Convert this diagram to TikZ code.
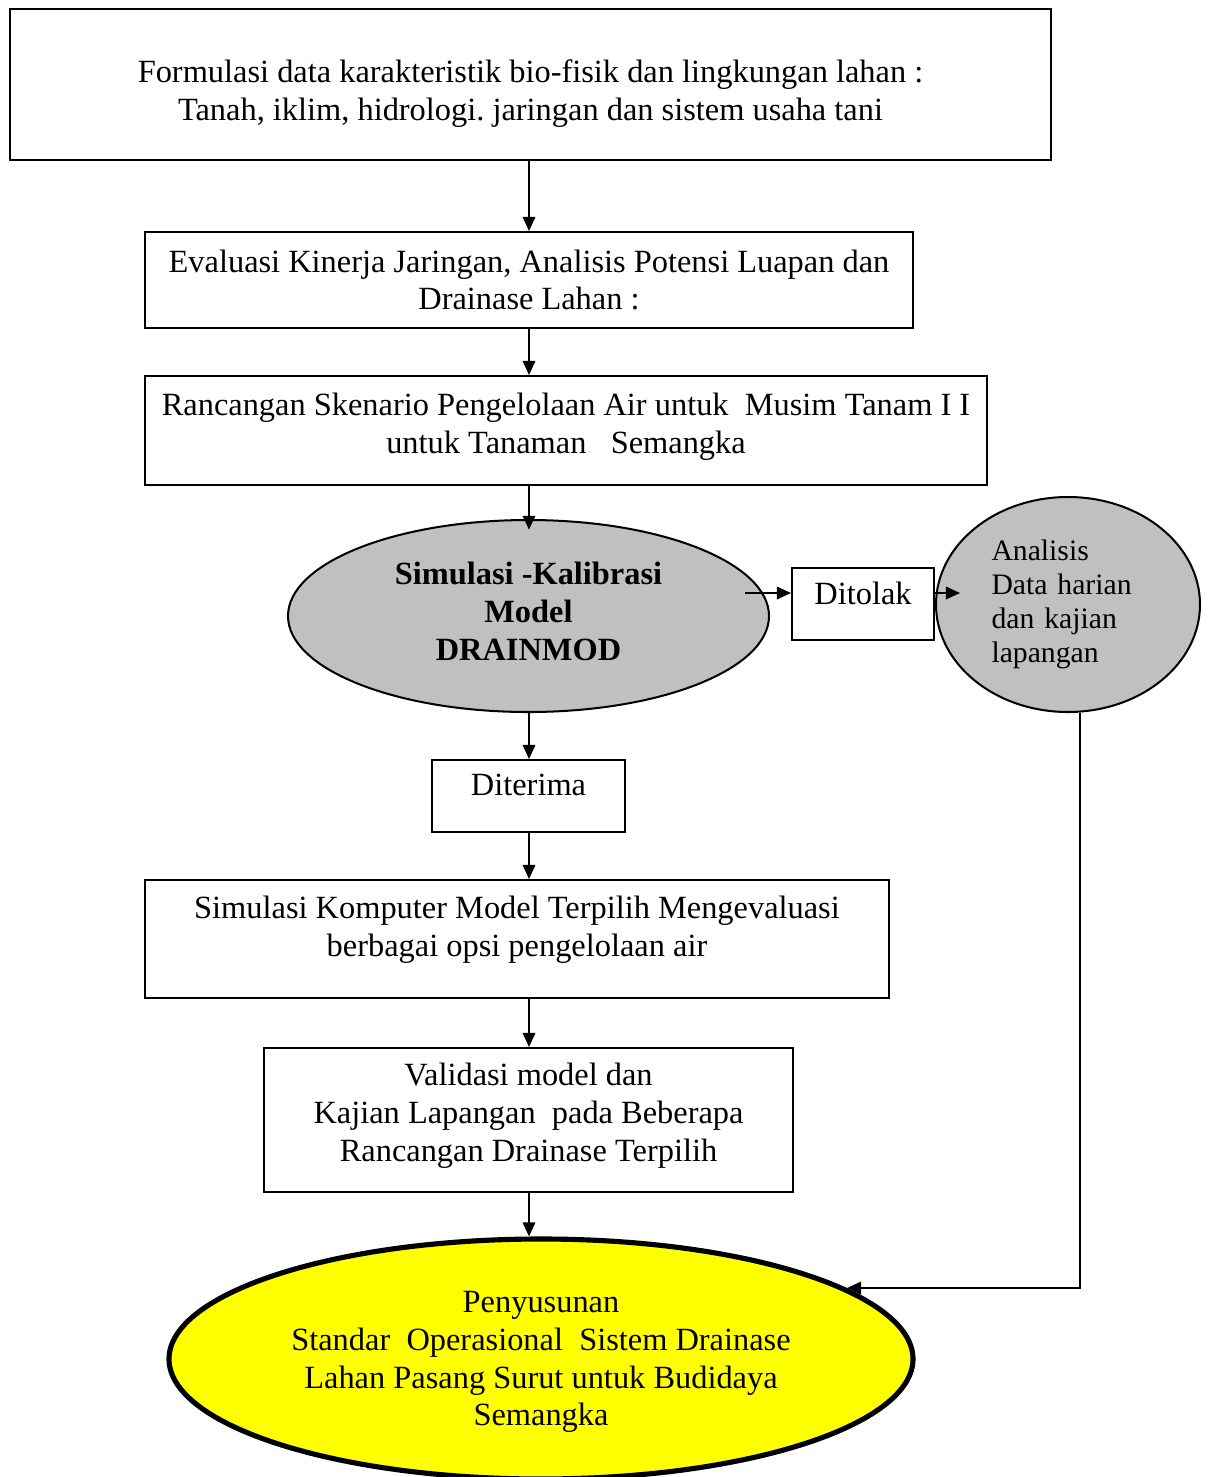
\documentclass[tikz,border=0pt]{standalone}
\usepackage{fontspec}
\setmainfont{Liberation Serif}
\usetikzlibrary{shapes.geometric,arrows.meta}
\frenchspacing
\newcommand{\px}{0.3704pt}
\definecolor{abu}{RGB}{192,192,192}
\definecolor{kuning}{RGB}{255,255,0}
\tikzset{
  kotak/.style={draw, line width=0.75pt, align=center, inner sep=0pt,
    font=\fontsize{12pt}{14pt}\selectfont},
  elips/.style={draw, ellipse, line width=0.75pt, align=center, inner sep=0pt,
    font=\fontsize{12pt}{14pt}\selectfont},
  arr/.style={line width=0.75pt, -{Triangle[length=5.2pt,width=4.6pt]}}
}
\begin{document}
\begin{tikzpicture}[x=\px, y=-\px]
\useasboundingbox (0,0) rectangle (1208,1477);

\node[kotak, minimum width=1041*\px, minimum height=151*\px, text depth=0pt, text height=72*\px] (formulasi) at (530.5,84.5)
  {Formulasi data karakteristik bio-fisik dan lingkungan lahan :\\
   Tanah, iklim, hidrologi. jaringan dan sistem usaha tani};
\node[kotak, minimum width=768*\px, minimum height=96*\px] (evaluasi) at (529,280)
  {Evaluasi Kinerja Jaringan, Analisis Potensi Luapan dan\\ Drainase Lahan :};
\node[kotak, minimum width=842*\px, minimum height=109*\px, text depth=14*\px] (rancangan) at (566,430.5)
  {Rancangan Skenario Pengelolaan Air untuk\ \ Musim Tanam I I\\ untuk Tanaman\ \ \ Semangka};
\node[elips, fill=abu, minimum width=481*\px, minimum height=192*\px, text depth=10*\px,
  font=\fontsize{12pt}{14pt}\selectfont\bfseries] (kalibrasi) at (528.5,616)
  {Simulasi -Kalibrasi\\ Model\\ DRAINMOD};
\node[kotak, minimum width=142*\px, minimum height=72*\px, text depth=22*\px] (ditolak) at (863,604) {Ditolak};
\node[elips, fill=abu, minimum width=264*\px, minimum height=215*\px, align=left, text width=153*\px,
  font=\fontsize{11pt}{12.6pt}\selectfont] (analisis) at (1068,604.5)
  {Analisis\\ Data harian\\ dan kajian\\ lapangan};
\node[kotak, minimum width=193*\px, minimum height=72*\px, text depth=22*\px] (diterima) at (528.5,796) {Diterima};
\node[kotak, minimum width=744*\px, minimum height=118*\px, text depth=26*\px] (komputer) at (517,939)
  {Simulasi Komputer Model Terpilih Mengevaluasi\\ berbagai opsi pengelolaan air};
\node[kotak, minimum width=529*\px, minimum height=144*\px, text depth=16*\px] (validasi) at (528.5,1120)
  {Validasi model dan\\ Kajian Lapangan\ \ pada Beberapa\\ Rancangan Drainase Terpilih};
\node[elips, fill=kuning, line width=1.9pt, minimum width=744*\px, minimum height=240*\px, text depth=1*\px] (penyusunan) at (541,1359)
  {Penyusunan\\ Standar\ \ Operasional\ \ Sistem Drainase\\ Lahan Pasang Surut untuk Budidaya\\ Semangka};

% alur utama
\coordinate (sumbu) at (529,0);
\foreach \a/\b in {formulasi/evaluasi, evaluasi/rancangan, kalibrasi/diterima,
  diterima/komputer, komputer/validasi, validasi/penyusunan}
  \draw[arr] (sumbu |- \a.south) -- (sumbu |- \b.north);
\draw[arr, shorten >=-4pt] (sumbu |- rancangan.south) -- (sumbu |- kalibrasi.north);

% cabang ditolak
\coordinate (tolak) at (745,593);
\coordinate (tolakujung) at (960,593);
\draw[arr] (tolak) -- (tolak -| ditolak.west);
\draw[arr] (tolak -| ditolak.east) -- (tolakujung);
\coordinate (balik) at (1080,1288);
\draw[arr] (balik |- analisis.south) -- (balik) -- (balik -| penyusunan.13.3);
\end{tikzpicture}
\end{document}
